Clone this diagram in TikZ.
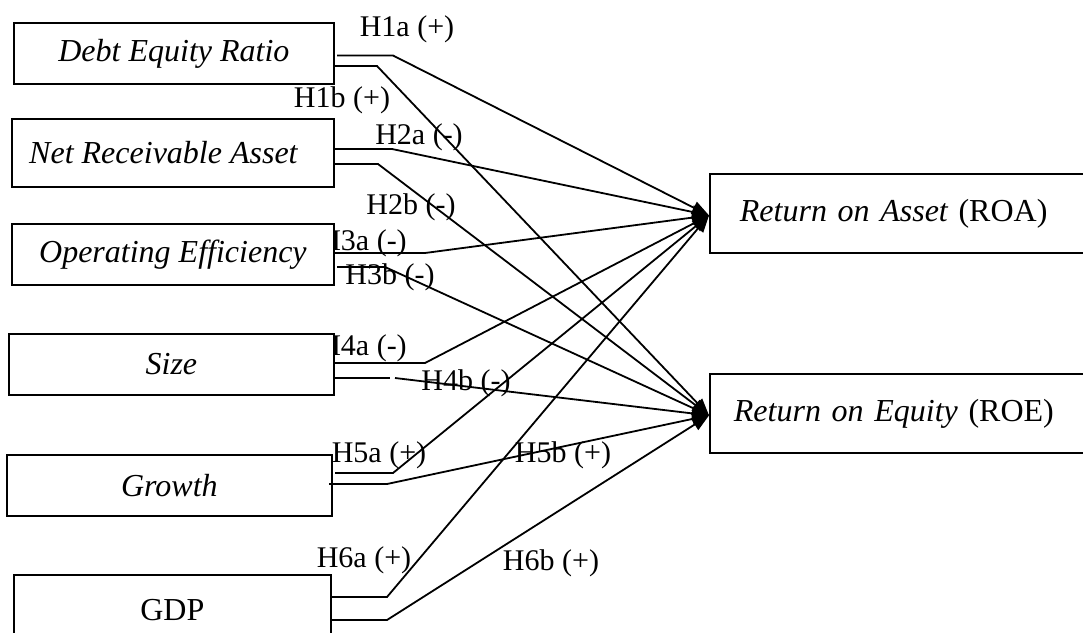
\documentclass[tikz,border=0pt]{standalone}
\usepackage{fontspec}
\setmainfont{Liberation Serif}
\usetikzlibrary{arrows.meta}
\begin{document}
\begin{tikzpicture}[x=1pt,y=-1pt,
  box/.style={draw,line width=1.8pt,fill=white,rectangle,anchor=north west,inner sep=0pt,font=\fontsize{32}{36}\selectfont},
  hyp/.style={font=\fontsize{30}{34}\selectfont,inner sep=0pt},
  conn/.style={line width=1.8pt},
  arr/.style={conn,-{Triangle[length=17pt,width=13pt]}}]
\useasboundingbox (0,0) rectangle (1083,632);
% labels (drawn first, boxes cover them partly)
\node[hyp] (l1a) at (407,29) {H1a (+)};
\node[hyp] (l1b) at (342,100) {H1b (+)};
\node[hyp] (l2a) at (419,137) {H2a (-)};
\node[hyp] (l2b) at (411,207) {H2b (-)};
\node[hyp] (l3a) at (363,243) {H3a (-)};
\node[hyp] (l3b) at (390,277) {H3b (-)};
\node[hyp] (l4a) at (363,348) {H4a (-)};
\node[hyp] (l4b) at (466,383) {H4b (-)};
\node[hyp] (l5a) at (379,455) {H5a (+)};
\node[hyp] (l5b) at (563,455) {H5b (+)};
\node[hyp] (l6a) at (364,560) {H6a (+)};
\node[hyp] (l6b) at (551,563) {H6b (+)};
% left boxes
\node[box,minimum width=320pt,minimum height=61pt] (der) at (13,22) {\itshape Debt Equity Ratio};
\node[box,minimum width=322pt,minimum height=68pt] (nra) at (11,118) {\itshape Net Receivable Asset\hspace*{19pt}};
\node[box,minimum width=322pt,minimum height=61pt] (oe) at (11,223) {\itshape Operating Efficiency};
\node[box,minimum width=325pt,minimum height=61pt] (sz) at (8,333) {\itshape Size};
\node[box,minimum width=325pt,minimum height=61pt] (gr) at (6,454) {\itshape Growth};
\node[box,minimum width=317pt,minimum height=70pt] (gdp) at (13,574) {GDP};
% right boxes
\node[box,text width=321pt,align=left,inner xsep=30pt,minimum height=79pt] (roa) at (709,173) {\itshape Return on Asset \upshape(ROA)};
\node[box,text width=327pt,align=left,inner xsep=24pt,minimum height=79pt] (roe) at (709,373) {\itshape Return on Equity \upshape(ROE)};
\coordinate (ta) at ([yshift=-2pt]roa.west);
\coordinate (te) at ([yshift=-2pt]roe.west);
% start coordinates
\coordinate (s1a) at (337,55.5); \coordinate (b1a) at (393,55.5);
\coordinate (s1b) at (333,66);   \coordinate (b1b) at (377,66);
\coordinate (s2a) at (333,149);  \coordinate (b2a) at (392,149);
\coordinate (s2b) at (333,164);  \coordinate (b2b) at (378,164);
\coordinate (s3a) at (333,253);  \coordinate (b3a) at (425,253);
\coordinate (s3b) at (337,267);  \coordinate (b3b) at (385,267);
\coordinate (s4a) at (333,363);  \coordinate (b4a) at (425,363);
\coordinate (s4b) at (333,378);  \coordinate (b4b) at (390,378); \coordinate (c4b) at (395,378);
\coordinate (s5a) at (335,473);  \coordinate (b5a) at (393,473);
\coordinate (s5b) at (329,484);  \coordinate (b5b) at (387,484);
\coordinate (s6a) at (330,597);  \coordinate (b6a) at (387,597);
\coordinate (s6b) at (330,620);  \coordinate (b6b) at (387,620);
% connectors
\draw[arr] (s1a) -- (b1a) -- (ta);
\draw[arr] (s1b) -- (b1b) -- (te);
\draw[arr] (s2a) -- (b2a) -- (ta);
\draw[arr] (s2b) -- (b2b) -- (te);
\draw[arr] (s3a) -- (b3a) -- (ta);
\draw[arr] (s3b) -- (b3b) -- (te);
\draw[arr] (s4a) -- (b4a) -- (ta);
\draw[conn] (s4b) -- (b4b);
\draw[arr] (c4b) -- (te);
\draw[arr] (s5a) -- (b5a) -- (ta);
\draw[arr] (s5b) -- (b5b) -- (te);
\draw[arr] (s6a) -- (b6a) -- (ta);
\draw[arr] (s6b) -- (b6b) -- (te);
\end{tikzpicture}
\end{document}
